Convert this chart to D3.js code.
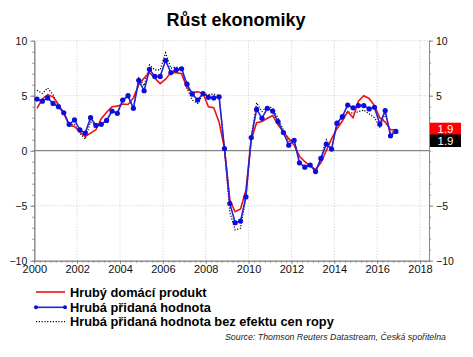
<!DOCTYPE html>
<html><head><meta charset="utf-8">
<script src="https://cdn.jsdelivr.net/npm/d3@7"></script>
<style>body{margin:0;background:#fff}svg{display:block}</style>
</head><body>
<svg id="c" width="473" height="357"></svg>
<script>
const title = "Růst ekonomiky";
const quarters = [
"2000Q1","2000Q2","2000Q3","2000Q4","2001Q1","2001Q2","2001Q3","2001Q4",
"2002Q1","2002Q2","2002Q3","2002Q4","2003Q1","2003Q2","2003Q3","2003Q4",
"2004Q1","2004Q2","2004Q3","2004Q4","2005Q1","2005Q2","2005Q3","2005Q4",
"2006Q1","2006Q2","2006Q3","2006Q4","2007Q1","2007Q2","2007Q3","2007Q4",
"2008Q1","2008Q2","2008Q3","2008Q4","2009Q1","2009Q2","2009Q3","2009Q4",
"2010Q1","2010Q2","2010Q3","2010Q4","2011Q1","2011Q2","2011Q3","2011Q4",
"2012Q1","2012Q2","2012Q3","2012Q4","2013Q1","2013Q2","2013Q3","2013Q4",
"2014Q1","2014Q2","2014Q3","2014Q4","2015Q1","2015Q2","2015Q3","2015Q4",
"2016Q1","2016Q2","2016Q3","2016Q4"];
const gdp = [
3.85,4.7,5.1,4.9, 4.2,3.4,2.3,2.2, 1.7,1.3,1.6,1.9, 2.9,3.5,4.0,4.05,
4.25,4.2,4.8,6.0, 6.6,7.1,6.6,6.1, 6.5,7.1,7.1,7.0, 5.7,5.3,5.35,5.2,
4.0,3.9,2.6,0.2, -4.5,-5.55,-5.3,-3.6, 1.0,2.55,2.65,2.95, 3.2,2.35,1.7,1.1,
0.5,-0.5,-1.0,-1.4, -1.7,-1.1,0.0,1.1, 2.0,2.7,3.55,3.0, 4.5,5.0,4.75,4.1,
3.0,2.6,1.9,1.9];
const gva = [
4.7,4.5,4.8,4.3, 4.0,3.45,2.4,2.8, 1.9,1.6,3.0,2.3, 2.4,2.75,3.6,3.4,
4.6,5.0,3.85,6.4, 5.45,7.4,6.75,6.75, 8.2,7.1,7.35,7.45, 6.05,5.15,4.6,5.2,
4.85,4.8,4.9,0.2, -4.8,-6.55,-6.4,-4.2, 1.2,3.75,2.95,3.85, 3.6,2.65,1.65,0.5,
0.95,-1.1,-1.5,-1.3, -1.9,-0.7,0.6,0.15, 2.5,3.1,4.15,3.9, 4.1,4.1,3.8,3.95,
2.4,3.65,1.35,1.75];
const gvaExOil = [
5.5,5.2,5.7,5.1, 4.1,3.5,2.4,2.4, 1.6,1.05,2.6,2.3, 2.4,2.75,3.6,3.4,
4.5,4.9,3.85,6.6, 5.9,7.8,7.35,7.35, 8.9,7.5,7.6,7.5, 5.7,4.6,4.3,5.15,
5.1,5.15,5.0,0.0, -5.6,-7.2,-7.05,-4.3, 1.2,4.35,3.55,4.05, 3.85,2.95,1.9,0.85,
1.05,-1.0,-1.5,-1.2, -1.95,-0.7,1.0,0.2, 2.5,2.95,3.55,3.4, 3.55,3.7,3.35,3.0,
2.15,3.35,1.6,1.9];
const xTicks = [2000,2002,2004,2006,2008,2010,2012,2014,2016,2018];
const yTicks = [-10,-5,0,5,10];
const yTicksRightLabelled = [-10,-5,5,10];
const legendLabels = ["Hrubý domácí produkt","Hrubá přidaná hodnota","Hrubá přidaná hodnota bez efektu cen ropy"];
const lastLabels = ["1.9","1.9"];
const sourceText = "Source: Thomson Reuters Datastream, Česká spořitelna";

const svg = d3.select("#c");
const FONT = "'Liberation Sans', Arial, sans-serif";
const x = d3.scaleLinear().domain([2000, 2018.42]).range([34.3, 429]);
const y = d3.scaleLinear().domain([-10, 10]).range([260.7, 40.7]);
const qx = q => +q.slice(0,4) + (+q.slice(5) - 0.5) / 4;

svg.append("text").attr("x", 236).attr("y", 26).attr("text-anchor","middle")
  .attr("font-family", FONT).attr("font-weight","bold").attr("font-size", 18).text(title);

// gridlines
const grid = svg.append("g").attr("stroke","#bdbdbd").attr("stroke-width",0.8).attr("stroke-dasharray","1,2");
grid.selectAll(".gx").data(xTicks.slice(1)).join("line")
  .attr("x1", d=>x(d)).attr("x2", d=>x(d)).attr("y1", y(10)).attr("y2", y(-10));
grid.selectAll(".gy").data([10,5,-5]).join("line")
  .attr("x1", x(2000)).attr("x2", x.range()[1]).attr("y1", d=>y(d)).attr("y2", d=>y(d));
svg.append("line").attr("x1", x(2000)).attr("x2", x.range()[1]).attr("y1", y(0)).attr("y2", y(0))
  .attr("stroke","#666").attr("stroke-width",1);

// axes
const axisStyle = g => { g.select(".domain").attr("stroke","#888"); g.selectAll(".tick line").attr("stroke","#888");
  g.selectAll("text").attr("font-family", FONT).attr("font-size", 10.5).attr("fill","#111"); };
const minorY = d3.range(-10, 10.01, 1);
svg.append("g").attr("transform",`translate(${x(2000)},0)`)
  .call(d3.axisLeft(y).tickValues(minorY).tickSize(2).tickFormat("").tickSizeOuter(0))
  .call(g=>{g.select(".domain").attr("stroke","#888"); g.selectAll("line").attr("stroke","#888");});
svg.append("g").attr("transform",`translate(${x(2000)},0)`)
  .call(d3.axisLeft(y).tickValues(yTicks).tickSize(4).tickPadding(3).tickFormat(d3.format("d")).tickSizeOuter(0)).call(axisStyle);
svg.append("g").attr("transform",`translate(${x.range()[1]},0)`)
  .call(d3.axisRight(y).tickValues(minorY).tickSize(2).tickFormat("").tickSizeOuter(0))
  .call(g=>{g.select(".domain").attr("stroke","#888"); g.selectAll("line").attr("stroke","#888");});
svg.append("g").attr("transform",`translate(${x.range()[1]},0)`)
  .call(d3.axisRight(y).tickValues(yTicksRightLabelled).tickSize(4).tickPadding(3).tickFormat(d3.format("d")).tickSizeOuter(0)).call(axisStyle);
svg.append("g").attr("transform",`translate(0,${y(-10)})`)
  .call(d3.axisBottom(x).tickValues(d3.range(2000, 2018.4, 0.25)).tickSize(2).tickFormat("").tickSizeOuter(0))
  .call(g=>{g.select(".domain").attr("stroke","#888"); g.selectAll("line").attr("stroke","#888");});
svg.append("g").attr("transform",`translate(0,${y(-10)})`)
  .call(d3.axisBottom(x).tickValues(xTicks).tickSize(3).tickPadding(2).tickFormat(d3.format("d")).tickSizeOuter(0)).call(axisStyle)
  .call(g=>g.selectAll("text").attr("font-size", 11));

// series
const line = vals => d3.line().x((d,i)=>x(qx(quarters[i]))).y(d=>y(d))(vals);
svg.append("path").attr("d", line(gvaExOil)).attr("fill","none").attr("stroke","#000")
  .attr("stroke-width",1.2).attr("stroke-dasharray","1.2,1.6");
svg.append("path").attr("d", line(gdp)).attr("fill","none").attr("stroke","#f01010").attr("stroke-width",1.6);
svg.append("path").attr("d", line(gva)).attr("fill","none").attr("stroke","#2323d8").attr("stroke-width",1.6);
svg.append("g").attr("fill","#0c0ce0").selectAll("circle").data(gva).join("circle")
  .attr("cx",(d,i)=>x(qx(quarters[i]))).attr("cy", d=>y(d)).attr("r", 2.6);

// last-value labels
const lbl = [{c:"#ff0000", t:lastLabels[0], y0:122.7},
             {c:"#000", t:lastLabels[1], y0:134.5}];
lbl.forEach(l=>{
  svg.append("rect").attr("x", x.range()[1]+1).attr("y", l.y0).attr("width", 31).attr("height", 12.5).attr("fill", l.c);
  svg.append("text").attr("x", x.range()[1]+1+15.5).attr("y", l.y0+10.5).attr("text-anchor","middle")
    .attr("font-family", FONT).attr("font-size", 11.5).attr("fill","#fff").text(l.t);
});

// legend
const lg = svg.append("g");
const ly = [292, 307.3, 321.7];
lg.append("line").attr("x1",36).attr("x2",65).attr("y1",ly[0]).attr("y2",ly[0]).attr("stroke","#f01010").attr("stroke-width",1.6);
lg.append("line").attr("x1",36).attr("x2",65).attr("y1",ly[1]).attr("y2",ly[1]).attr("stroke","#2323d8").attr("stroke-width",1.6);
lg.selectAll("circle").data([36,65]).join("circle").attr("cx",d=>d).attr("cy",ly[1]).attr("r",2).attr("fill","#0c0ce0");
lg.append("line").attr("x1",36).attr("x2",65).attr("y1",ly[2]).attr("y2",ly[2]).attr("stroke","#000").attr("stroke-width",1.2).attr("stroke-dasharray","1.2,1.6");
lg.selectAll("text").data(legendLabels).join("text").attr("x",70).attr("y",(d,i)=>ly[i]+4.5)
  .attr("font-family", FONT).attr("font-weight","bold").attr("font-size",12.8).text(d=>d);

svg.append("text").attr("x",446).attr("y",340).attr("text-anchor","end").attr("font-family",FONT)
  .attr("font-style","italic").attr("font-size",8.8).attr("fill","#222").text(sourceText);
</script>
</body></html>
